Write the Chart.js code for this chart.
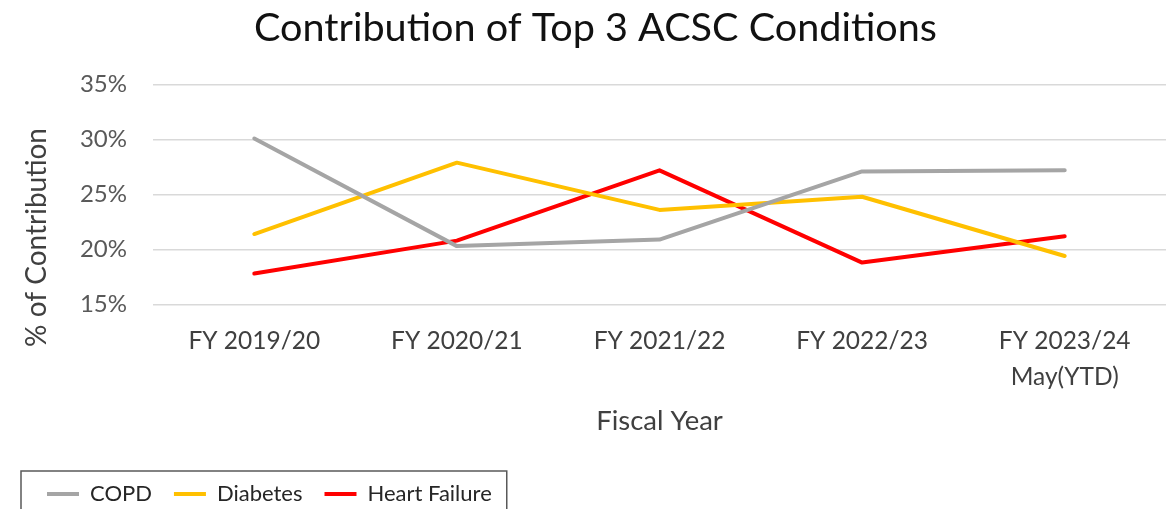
<!DOCTYPE html>
<html>
<head>
<meta charset="utf-8">
<script src="https://cdn.jsdelivr.net/npm/chart.js@4"></script>
<style>
  html, body { margin: 0; padding: 0; background: #fff; }
  #wrap { width: 1171px; height: 509px; }
</style>
</head>
<body>
<div id="wrap"><canvas id="chart" width="1171" height="509"></canvas></div>
<script>
// Chart data
const fiscalYears = ['FY 2019/20', 'FY 2020/21', 'FY 2021/22', 'FY 2022/23', ['FY 2023/24', 'May(YTD)']];
const copdValues = [30.1, 20.3, 20.9, 27.1, 27.2];
const diabetesValues = [21.4, 27.9, 23.6, 24.8, 19.4];
const heartFailureValues = [17.8, 20.8, 27.2, 18.8, 21.2];
const yTicks = [15, 20, 25, 30, 35];

const FONT = 'Lato, "Open Sans", sans-serif';

// draws the box around the legend
const legendBorder = {
  id: 'legendBorder',
  afterDraw(chart) {
    const boxes = chart.legend.legendHitBoxes;
    if (!boxes || !boxes.length) return;
    const first = boxes[0];
    const last = boxes[boxes.length - 1];
    const ctx = chart.ctx;
    const midY = first.top + first.height / 2;
    ctx.save();
    ctx.strokeStyle = '#595959';
    ctx.lineWidth = 1.5;
    ctx.strokeRect(first.left - 26, midY - 23, last.left + last.width - first.left + 41, 80);
    ctx.restore();
  }
};

const ctx = document.getElementById('chart').getContext('2d');
const chart = new Chart(ctx, {
  type: 'line',
  data: {
    labels: fiscalYears,
    datasets: [
      { label: 'COPD', data: copdValues, borderColor: '#A5A5A5', backgroundColor: '#A5A5A5' },
      { label: 'Diabetes', data: diabetesValues, borderColor: '#FFC000', backgroundColor: '#FFC000' },
      { label: 'Heart Failure', data: heartFailureValues, borderColor: '#FF0000', backgroundColor: '#FF0000' }
    ]
  },
  options: {
    responsive: false,
    animation: false,
    layout: { padding: { left: 25, right: 5, top: 0, bottom: -6 } },
    elements: {
      line: { borderWidth: 4, tension: 0, borderCapStyle: 'round', borderJoinStyle: 'round' },
      point: { radius: 0, hoverRadius: 0, borderWidth: 4 }
    },
    plugins: {
      title: {
        display: true,
        text: 'Contribution of Top 3 ACSC Conditions',
        color: '#111',
        font: { family: FONT, size: 39.6, weight: 'normal' },
        padding: { top: 4, bottom: 33.2 }
      },
      legend: {
        position: 'bottom',
        align: 'start',
        labels: {
          usePointStyle: true,
          pointStyle: 'line',
          pointStyleWidth: 32,
          boxHeight: 22,
          padding: 22,
          color: '#262626',
          font: { family: FONT, size: 22 }
        }
      },
      tooltip: { enabled: false }
    },
    scales: {
      x: {
        offset: true,
        grid: { display: false, drawTicks: false },
        border: { display: false },
        ticks: {
          color: '#404040',
          padding: 18,
          maxRotation: 0,
          autoSkip: false,
          font: { family: FONT, size: 24.5, lineHeight: 1.5 }
        },
        title: {
          display: true,
          text: 'Fiscal Year',
          color: '#404040',
          font: { family: FONT, size: 27.5 },
          padding: { top: 10, bottom: 23.2 }
        },
        afterFit(scale) { scale.height = 156.7; }
      },
      y: {
        min: 15,
        max: 35,
        grid: { color: '#d9d9d9', lineWidth: 1.5, drawTicks: false },
        border: { display: false },
        afterBuildTicks(scale) { scale.ticks = yTicks.map(v => ({ value: v })); },
        ticks: {
          color: '#595959',
          padding: 26,
          font: { family: FONT, size: 24 },
          callback: v => v + '%'
        },
        title: {
          display: true,
          // trailing spaces push the visible text down, as in the original
          text: '% of Contribution' + ' '.repeat(12),
          color: '#404040',
          font: { family: FONT, size: 28 },
          padding: { top: -5, bottom: 0 }
        },
        afterFit(scale) { scale.width = 128; }
      }
    }
  },
  plugins: [legendBorder]
});
</script>
</body>
</html>
